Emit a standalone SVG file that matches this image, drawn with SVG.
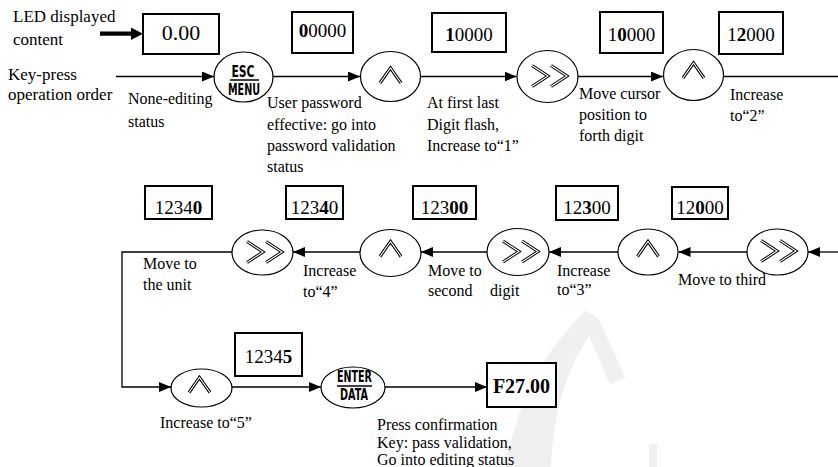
<svg xmlns="http://www.w3.org/2000/svg" width="838" height="467" viewBox="0 0 838 467">
<style>
text{font-family:"Liberation Serif","Times New Roman",serif;fill:#000}
.lbl{font-size:16px}
.side{font-size:17px}
.num{font-size:19px;text-anchor:middle}
.b{font-weight:bold}
.box{fill:#fff;stroke:#000;stroke-width:2}
.key{fill:#fff;stroke:#000;stroke-width:1.2}
.conn{fill:none;stroke:#000;stroke-width:1.3}
.go{fill:none;stroke:#000;stroke-width:3.1;stroke-linejoin:miter}
.gi{fill:none;stroke:#fff;stroke-width:1.1;stroke-linejoin:miter}
.kt{font-family:"DejaVu Sans Condensed","Liberation Sans Narrow","Liberation Sans",Arial,sans-serif;font-weight:bold;text-anchor:middle}
.bar{stroke:#000;stroke-width:1.5}
.wm{fill:#f0f0f0}
</style>
<defs>
<marker id="ah" markerUnits="userSpaceOnUse" markerWidth="13" markerHeight="10" refX="12" refY="5" orient="auto">
<path d="M0,0 L12,5 L0,10 Z" fill="#000"/>
</marker>
<path id="caret" d="M-10.5,15 L0,0 L10.5,15"/>
<path id="dbl" d="M0,0 L16,10.5 L0,21 M19,0 L35,10.5 L19,21"/>
</defs>

<g id="watermark">
<path class="wm" d="M506,467 C515,410 540,355 585,311 L598,324 C566,364 553,414 551,467 Z"/>
<path class="wm" d="M585,311 L598,318 L625,377 L610,384 L590,338 Z"/>
<rect class="wm" x="649" y="444" width="8" height="23"/>
</g>

<g id="legend">
<text class="side" x="13" y="22">LED displayed</text>
<text class="side" x="13" y="45">content</text>
<path d="M100,31.6 H131 V27.4 L143,33.7 L131,40 V35.8 H100 Z" fill="#000"/>
<text class="side" x="8" y="80">Key-press</text>
<text class="side" x="8" y="100">operation order</text>
</g>

<g id="connectors">
<path class="conn" d="M116,76.5 H214" marker-end="url(#ah)"/>
<path class="conn" d="M273,76.5 H360" marker-end="url(#ah)"/>
<path class="conn" d="M420.5,76.5 H516.5" marker-end="url(#ah)"/>
<path class="conn" d="M578,76.5 H663" marker-end="url(#ah)"/>
<path class="conn" d="M723.5,76.5 H838"/>
<path class="conn" d="M838,252 H808" marker-end="url(#ah)"/>
<path class="conn" d="M747,252 H678.5" marker-end="url(#ah)"/>
<path class="conn" d="M618,252 H549" marker-end="url(#ah)"/>
<path class="conn" d="M487,252 H421" marker-end="url(#ah)"/>
<path class="conn" d="M360,252 H293" marker-end="url(#ah)"/>
<path class="conn" d="M232,252 H122 V387 H171" marker-end="url(#ah)"/>
<path class="conn" d="M232,387 H321" marker-end="url(#ah)"/>
<path class="conn" d="M385,387 H487" marker-end="url(#ah)"/>
</g>

<g id="disp-0">
<rect class="box" x="143" y="14" width="76" height="40"/>
<text x="181" y="40" font-size="22" text-anchor="middle">0.00</text>
</g>
<g id="key-esc">
<ellipse class="key" cx="243.5" cy="77" rx="29.5" ry="25"/>
<text class="kt" x="243" y="76.5" font-size="16" textLength="23" lengthAdjust="spacingAndGlyphs">ESC</text>
<line class="bar" x1="230" y1="80" x2="259" y2="80"/>
<text class="kt" x="244" y="95" font-size="15" textLength="32" lengthAdjust="spacingAndGlyphs">MENU</text>
</g>

<g id="disp-1">
<rect class="box" x="292" y="12" width="61" height="41"/>
<text class="num" x="322.5" y="37"><tspan class="b">0</tspan>0000</text>
</g>
<g id="key-up-1">
<ellipse class="key" cx="390.5" cy="76.5" rx="30" ry="25"/>
<use href="#caret" class="go" transform="translate(390.5,68)"/>
<use href="#caret" class="gi" transform="translate(390.5,68)"/>
</g>

<g id="disp-2">
<rect class="box" x="432" y="13" width="74" height="39"/>
<text class="num" x="469" y="41"><tspan class="b">1</tspan>0000</text>
</g>
<g id="key-shift-1">
<ellipse class="key" cx="547.5" cy="76.5" rx="30.5" ry="26"/>
<use href="#dbl" class="go" transform="translate(532,65.5)"/>
<use href="#dbl" class="gi" transform="translate(532,65.5)"/>
</g>

<g id="disp-3">
<rect class="box" x="600" y="12" width="63" height="41"/>
<text class="num" x="631.5" y="41">1<tspan class="b">0</tspan>000</text>
</g>
<g id="key-up-2">
<ellipse class="key" cx="693.5" cy="75" rx="30" ry="25.5"/>
<use href="#caret" class="go" transform="translate(693.5,63)"/>
<use href="#caret" class="gi" transform="translate(693.5,63)"/>
</g>

<g id="disp-4">
<rect class="box" x="719" y="12" width="64" height="42"/>
<text class="num" x="751" y="41">1<tspan class="b">2</tspan>000</text>
</g>

<g id="key-shift-2">
<ellipse class="key" cx="777.5" cy="252" rx="30.5" ry="23"/>
<use href="#dbl" class="go" transform="translate(761,240.5)"/>
<use href="#dbl" class="gi" transform="translate(761,240.5)"/>
</g>
<g id="disp-5">
<rect class="box" x="672" y="187" width="56" height="32"/>
<text class="num" x="700" y="214">12<tspan class="b">0</tspan>00</text>
</g>

<g id="key-up-3">
<ellipse class="key" cx="648" cy="252" rx="30" ry="23"/>
<use href="#caret" class="go" transform="translate(648,241.5)"/>
<use href="#caret" class="gi" transform="translate(648,241.5)"/>
</g>
<g id="disp-6">
<rect class="box" x="556" y="186" width="62" height="34"/>
<text class="num" x="587" y="214">12<tspan class="b">3</tspan>00</text>
</g>

<g id="key-shift-3">
<ellipse class="key" cx="518" cy="252" rx="31" ry="23.5"/>
<use href="#dbl" class="go" transform="translate(503,241)"/>
<use href="#dbl" class="gi" transform="translate(503,241)"/>
</g>
<g id="disp-7">
<rect class="box" x="413" y="186" width="63" height="33"/>
<text class="num" x="444.5" y="214">123<tspan class="b">00</tspan></text>
</g>

<g id="key-up-4">
<ellipse class="key" cx="390.5" cy="253" rx="30.5" ry="23.5"/>
<use href="#caret" class="go" transform="translate(390.5,241.5)"/>
<use href="#caret" class="gi" transform="translate(390.5,241.5)"/>
</g>
<g id="disp-8">
<rect class="box" x="286" y="186" width="57" height="33"/>
<text class="num" x="314.5" y="214">123<tspan class="b">4</tspan>0</text>
</g>

<g id="key-shift-4">
<ellipse class="key" cx="262.5" cy="252.5" rx="30.5" ry="22.5"/>
<use href="#dbl" class="go" transform="translate(247,241.5)"/>
<use href="#dbl" class="gi" transform="translate(247,241.5)"/>
</g>
<g id="disp-9">
<rect class="box" x="145" y="186" width="67" height="33"/>
<text class="num" x="178.5" y="214">1234<tspan class="b">0</tspan></text>
</g>

<g id="key-up-5">
<ellipse class="key" cx="201.5" cy="388" rx="30.5" ry="19"/>
<use href="#caret" class="go" transform="translate(199.5,377.5)"/>
<use href="#caret" class="gi" transform="translate(199.5,377.5)"/>
</g>
<g id="disp-10">
<rect class="box" x="235" y="333" width="67" height="43"/>
<text class="num" x="268.5" y="363">1234<tspan class="b">5</tspan></text>
</g>

<g id="key-enter">
<ellipse class="key" cx="353" cy="387.5" rx="32" ry="20.5"/>
<text class="kt" x="354.5" y="382" font-size="15" textLength="35" lengthAdjust="spacingAndGlyphs">ENTER</text>
<line class="bar" x1="337" y1="386" x2="372" y2="386"/>
<text class="kt" x="354" y="400" font-size="15" textLength="28" lengthAdjust="spacingAndGlyphs">DATA</text>
</g>

<g id="disp-final">
<rect class="box" x="487" y="363" width="69" height="44"/>
<text x="521.5" y="393" font-size="20" font-weight="bold" text-anchor="middle">F27.00</text>
</g>

<g id="labels">
<text class="lbl" x="128" y="104">None-editing</text>
<text class="lbl" x="128" y="127">status</text>
<text class="lbl" x="267" y="108">User password</text>
<text class="lbl" x="267" y="130">effective: go into</text>
<text class="lbl" x="267" y="151">password validation</text>
<text class="lbl" x="267" y="172">status</text>
<text class="lbl" x="427" y="108">At first last</text>
<text class="lbl" x="427" y="130">Digit flash,</text>
<text class="lbl" x="427" y="151">Increase to“1”</text>
<text class="lbl" x="579" y="99">Move cursor</text>
<text class="lbl" x="579" y="120">position to</text>
<text class="lbl" x="579" y="141">forth digit</text>
<text class="lbl" x="730" y="100">Increase</text>
<text class="lbl" x="730" y="121">to“2”</text>
<text class="lbl" x="143" y="269">Move to</text>
<text class="lbl" x="143" y="290">the unit</text>
<text class="lbl" x="303" y="276">Increase</text>
<text class="lbl" x="303" y="297">to“4”</text>
<text class="lbl" x="428" y="276">Move to</text>
<text class="lbl" x="428" y="296">second <tspan x="490">digit</tspan></text>
<text class="lbl" x="557" y="276">Increase</text>
<text class="lbl" x="557" y="295">to“3”</text>
<text class="lbl" x="678" y="285">Move to third</text>
<text class="lbl" x="160" y="428">Increase to“5”</text>
<text class="lbl" x="377" y="430">Press confirmation</text>
<text class="lbl" x="377" y="448">Key: pass validation,</text>
<text class="lbl" x="377" y="465">Go into editing status</text>
</g>
</svg>
